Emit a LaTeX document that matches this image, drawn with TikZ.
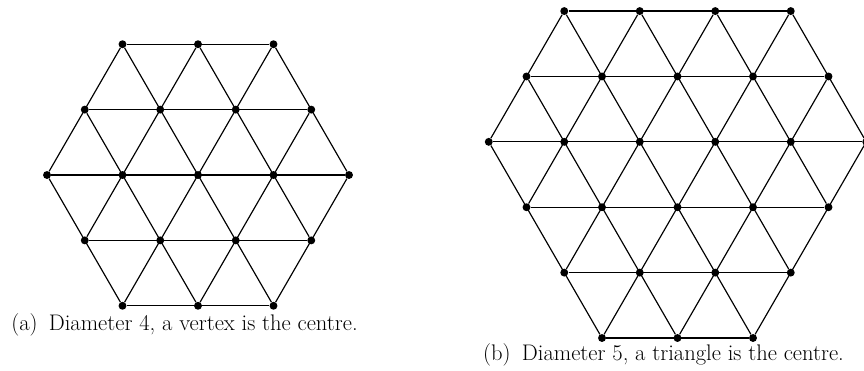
\documentclass[tikz,border=0pt]{standalone}
\usepackage{tikz}
\usetikzlibrary{calc}
\tikzset{vertex/.style={circle,fill=black,inner sep=0pt,minimum size=1.9mm},
  edge/.style={line width=0.8pt,draw=black},
  caption/.style={anchor=base west,inner sep=0pt,font=\fontsize{15.4}{18}\selectfont}}

\begin{document}
\begin{tikzpicture}
 \useasboundingbox (0,0) rectangle (20.736,8.88);
 % (a) hexagon round a vertex
 \begin{scope}[shift={(4.752,4.68)},x=1.812cm,y=1.812cm]
  \foreach \i in {0,...,4}
   \foreach \j in {0,...,4}{
    \pgfmathtruncatemacro{\s}{\i+\j}
    \ifnum\s>1 \ifnum\s<7
     \node[vertex] (l\i\j) at ({\i-2+(\j-2)/2},{(\j-2)*sqrt(3)/2}) {};
    \fi\fi}
  \foreach \k in {0,...,4}{
   \pgfmathtruncatemacro{\a}{max(0,2-\k)}
   \pgfmathtruncatemacro{\b}{min(4,6-\k)}
   \draw[edge] (l\a\k)--(l\b\k);
   \draw[edge] (l\k\a)--(l\k\b);}
  \foreach \s in {2,...,6}{
   \pgfmathtruncatemacro{\a}{max(0,\s-4)}
   \pgfmathtruncatemacro{\b}{min(4,\s)}
   \pgfmathtruncatemacro{\c}{\s-\a}
   \pgfmathtruncatemacro{\d}{\s-\b}
   \draw[edge] (l\a\c)--(l\b\d);}
 \end{scope}
 \node[caption] (capa) at (0.264,0.96) {(a)\hspace{0.5em}Diameter 4, a vertex is the centre.};
 % (b) hexagon round a triangle
 \begin{scope}[shift={(14.448,0.768)},x=1.812cm,y=1.812cm]
  \foreach \i in {0,...,5}
   \foreach \j in {0,...,5}{
    \pgfmathtruncatemacro{\s}{\i+\j}
    \ifnum\s>2 \ifnum\s<9
     \node[vertex] (r\i\j) at ({\i-3+\j/2},{\j*sqrt(3)/2}) {};
    \fi\fi}
  \foreach \k in {0,...,5}{
   \pgfmathtruncatemacro{\a}{max(0,3-\k)}
   \pgfmathtruncatemacro{\b}{min(5,8-\k)}
   \draw[edge] (r\a\k)--(r\b\k);
   \draw[edge] (r\k\a)--(r\k\b);}
  \foreach \s in {3,...,8}{
   \pgfmathtruncatemacro{\a}{max(0,\s-5)}
   \pgfmathtruncatemacro{\b}{min(5,\s)}
   \pgfmathtruncatemacro{\c}{\s-\a}
   \pgfmathtruncatemacro{\d}{\s-\b}
   \draw[edge] (r\a\c)--(r\b\d);}
 \end{scope}
 \node[caption] (capb) at (11.59,0.24) {(b)\hspace{0.5em}Diameter 5, a triangle is the centre.};
\end{tikzpicture}
\end{document}
